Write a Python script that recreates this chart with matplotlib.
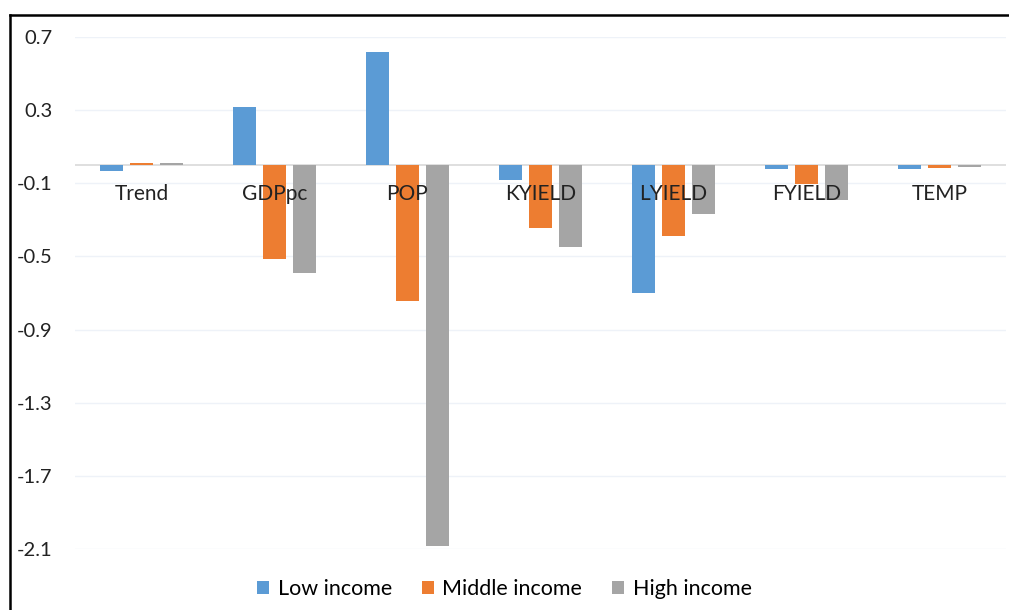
import matplotlib
matplotlib.use("Agg")
from matplotlib import pyplot as plt
from matplotlib.lines import Line2D
import numpy as np

categories = ['Trend', 'GDPpc', 'POP', 'KYIELD', 'LYIELD', 'FYIELD', 'TEMP']
low_income    = [-0.030, 0.315, 0.620, -0.083, -0.700, -0.023, -0.023]
middle_income = [0.010, -0.512, -0.741, -0.345, -0.387, -0.105, -0.018]
high_income   = [0.013, -0.589, -2.084, -0.451, -0.268, -0.189, -0.012]

series = [('Low income', low_income, '#5B9BD5'),
          ('Middle income', middle_income, '#ED7D31'),
          ('High income', high_income, '#A5A5A5')]

plt.rcParams['font.family'] = ['Lato', 'DejaVu Sans']

fig = plt.figure(figsize=(10.09, 6.10), dpi=100)
ax = fig.add_axes([0.0743, 0.1, 0.9227, 0.8393])

x = np.arange(len(categories))
width = 0.173
step = 0.226
for i, (name, vals, col) in enumerate(series):
    ax.bar(x + (i - 1) * step, vals, width, color=col, label=name, zorder=2)

ax.axhline(0, color='#D9D9D9', linewidth=1.2, zorder=1)

ax.set_xlim(-0.5, len(categories) - 0.5)
ax.set_ylim(-2.1, 0.7)
ticks = np.arange(-2.1, 0.71, 0.4)
ax.set_yticks(ticks)
ax.set_yticklabels(['%.1f' % t for t in ticks], fontsize=14.5, color='#222222')
ax.tick_params(axis='y', length=0, pad=16)
ax.set_xticks([])
ax.grid(axis='y', color='#EEF2F8', linewidth=1, zorder=0)
for s in ax.spines.values():
    s.set_visible(False)

# category labels sit just under the zero line, on top of the bars
for xi, name in zip(x, categories):
    ax.annotate(name, (xi, 0), xytext=(0, -14), textcoords='offset points',
                ha='center', va='top', fontsize=15, color='#222222', zorder=5)

ax.legend(loc='center', bbox_to_anchor=(0.5, 0.034), bbox_transform=fig.transFigure,
          ncol=3, frameon=False, fontsize=15.5, handlelength=0.55, handleheight=0.55,
          handletextpad=0.4, columnspacing=1.4)

# screenshot frame (top and left edges)
fig.add_artist(Line2D([0.0099, 1], [1 - 15 / 610, 1 - 15 / 610], color='black', linewidth=1.8))
fig.add_artist(Line2D([0.0099, 0.0099], [0, 1 - 15 / 610], color='black', linewidth=1.8))

fig.savefig('out.png', dpi=100)
